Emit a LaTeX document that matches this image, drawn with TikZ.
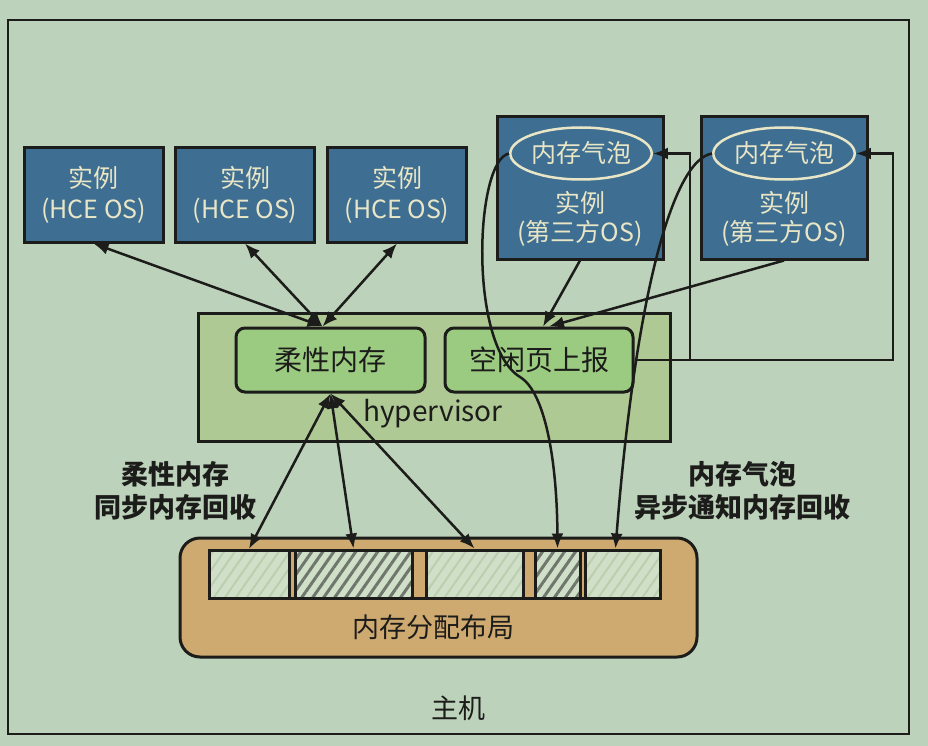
\documentclass[tikz,border=0pt]{standalone}
\usepackage{fontspec}
\setmainfont{Noto Sans CJK SC}
\usetikzlibrary{arrows.meta,patterns.meta,shapes.geometric}
\definecolor{bgsage}{HTML}{BDD2BB}
\definecolor{vmblue}{HTML}{3E6E91}
\definecolor{vmtext}{HTML}{E8E6C6}
\definecolor{hvgreen}{HTML}{AFC995}
\definecolor{modgreen}{HTML}{9BCB80}
\definecolor{memtan}{HTML}{CEA970}
\definecolor{segfill}{HTML}{D0E0C8}
\definecolor{hatchlight}{HTML}{BBCFAE}
\definecolor{hatchdark}{HTML}{6F776C}
\definecolor{ink}{HTML}{1C1C1A}

\begin{document}
\begin{tikzpicture}[
    x=1pt,
    y=-1pt,
    >={Latex[length=15pt,width=12pt]},
    vm/.style={draw=ink, line width=3pt, fill=vmblue, text=vmtext, align=center, inner sep=0pt, font=\fontsize{25}{31}\selectfont},
    vmlbl/.style={text=vmtext, align=center, inner sep=0pt, font=\fontsize{25}{29}\selectfont},
    bubble/.style={ellipse, draw=vmtext, line width=2.5pt, text=vmtext, minimum width=139pt, minimum height=52pt, inner sep=0pt, font=\fontsize{25}{30}\selectfont},
    module/.style={draw=ink, line width=3pt, rounded corners=9pt, fill=modgreen, minimum width=189pt, minimum height=64pt, text=ink, font=\fontsize{28}{32}\selectfont},
    seg/.style={draw=ink, line width=3pt, preaction={fill=segfill}, minimum height=48pt, inner sep=0pt},
    lite/.style={seg, pattern={Lines[angle=55,distance=9pt,line width=2pt]}, pattern color=hatchlight},
    dense/.style={seg, pattern={Lines[angle=55,distance=9pt,line width=3pt]}, pattern color=hatchdark},
    arr/.style={draw=ink, line width=2.5pt, ->},
    biarr/.style={draw=ink, line width=2.5pt, <->},
    txt/.style={text=ink, inner sep=0pt, font=\fontsize{27}{32}\selectfont},
    note/.style={text=ink, align=center, inner sep=0pt, font=\bfseries\fontsize{27}{33}\selectfont}
]
\path[fill=bgsage, use as bounding box] (0,0) rectangle (928,746);

\node[draw=ink, line width=2.5pt, minimum width=901pt, minimum height=714pt] (host) at (458.5,377) {};
\node[txt] (hostl) at (458,708) {主机};

\node[vm, minimum width=139pt, minimum height=94pt] (hce1) at (93.5,195) {实例\\(HCE OS)};
\node[vm, minimum width=139pt, minimum height=94pt] (hce2) at (245,195) {实例\\(HCE OS)};
\node[vm, minimum width=139pt, minimum height=94pt] (hce3) at (397,195) {实例\\(HCE OS)};

\node[vm, minimum width=166pt, minimum height=142pt] (tp1) at (580,188) {};
\node[bubble] (bub1) at (581,153.5) {内存气泡};
\node[vmlbl] (tp1l) at (580,219) {实例\\(第三方OS)};
\node[vm, minimum width=166pt, minimum height=142pt] (tp2) at (784,188) {};
\node[bubble] (bub2) at (784,153.5) {内存气泡};
\node[vmlbl] (tp2l) at (784,219) {实例\\(第三方OS)};

\node[draw=ink, line width=3pt, fill=hvgreen, minimum width=472pt, minimum height=128pt] (hv) at (434,377) {};
\node[txt, font=\fontsize{28}{32}\selectfont] (hvl) at (433,414) {hypervisor};
\node[module] (fm) at (330.5,360) {柔性内存};
\node[module, minimum width=188pt] (fp) at (539,360) {空闲页上报};

\node[draw=ink, line width=3pt, fill=memtan, rounded corners=20pt, minimum width=517pt, minimum height=119pt] (ml) at (438.5,597.5) {};
\node[txt] (mll) at (433,627) {内存分配布局};
\node[draw=ink, line width=3pt, fill=memtan, minimum width=451pt, minimum height=48pt] (st) at (434.5,574) {};
\node[lite, minimum width=80pt] (s1) at (249,574) {};
\node[dense, minimum width=117pt] (s2) at (353.5,574) {};
\node[lite, minimum width=97pt] (s3) at (474.5,574) {};
\node[dense, minimum width=45pt] (s4) at (557.5,574) {};
\node[lite, minimum width=75pt] (s5) at (622.5,574) {};

\node[note] (lblflex) at (175,491) {柔性内存\\同步内存回收};
\node[note] (lblbub) at (742,491) {内存气泡\\异步通知内存回收};

\draw[biarr] ([xshift=-8pt]fm.north) -- (hce1.south);
\draw[biarr] ([xshift=-8pt]fm.north) -- (hce2.south);
\draw[biarr] ([xshift=-8pt]fm.north) -- (hce3.south);

\draw[biarr] (fm.south) -- (s1.north);
\draw[biarr] (fm.south) -- (s2.north);
\draw[biarr] (fm.south) -- (s3.north);

\draw[arr] (tp1.south) -- ([xshift=4pt]fp.north);
\draw[arr] (tp2.south) -- ([xshift=10pt]fp.north);

\coordinate (j1) at (690,360);
\coordinate (j2) at (893,360);
\draw[arr] (fp.east) -- (j1) |- (bub1.east);
\draw[arr] (j1) -- (j2) |- (bub2.east);

\draw[arr] (bub1.west) .. controls (475,160) and (468,345) .. (520,377) .. controls (545,392) and (557,460) .. (s4.north);
\draw[arr] (bub2.west) .. controls (672,160) and (635,300) .. ([xshift=-7pt]s5.north);
\end{tikzpicture}
\end{document}
